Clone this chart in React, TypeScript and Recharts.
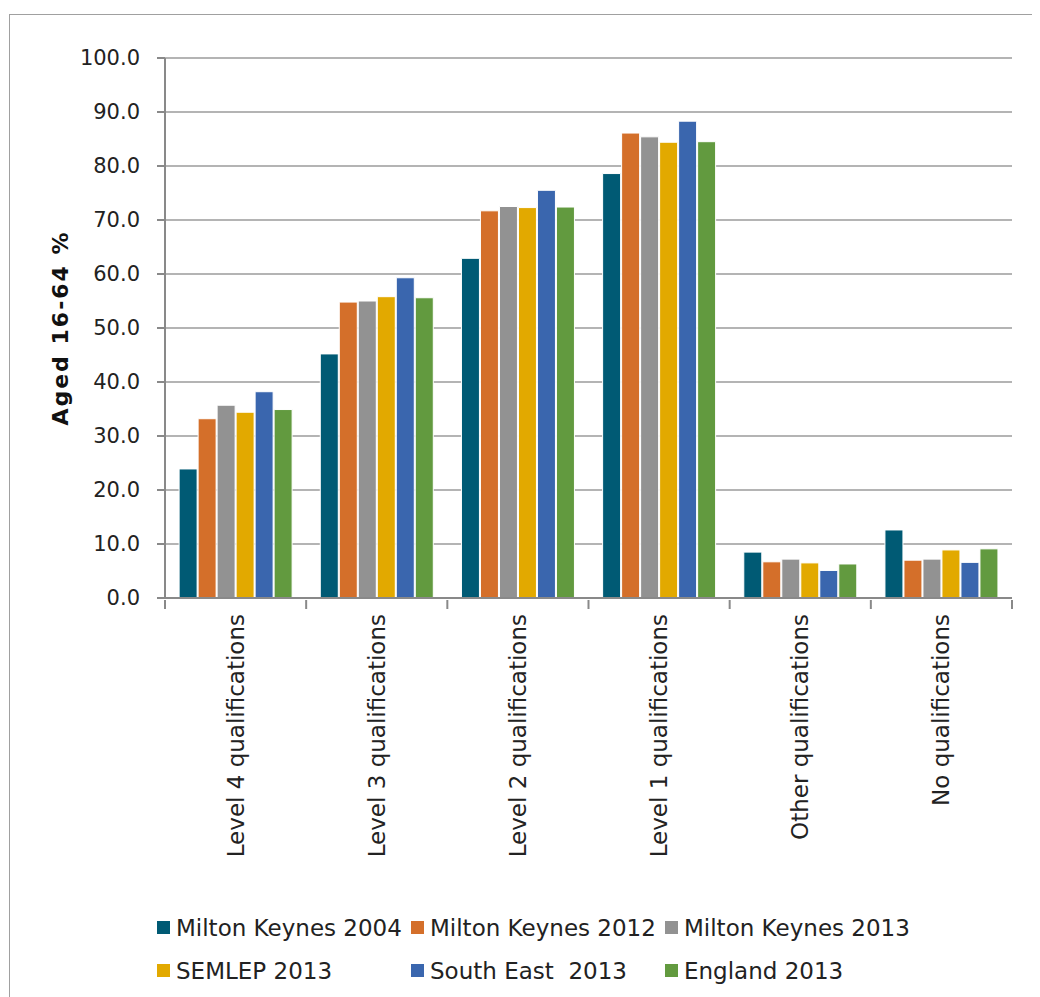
import { Bar, BarChart, CartesianGrid, Legend, XAxis, YAxis } from 'recharts';

const categories = [
  'Level 4 qualifications',
  'Level 3 qualifications',
  'Level 2 qualifications',
  'Level 1 qualifications',
  'Other qualifications',
  'No qualifications',
];

const mk2004 = [23.9, 45.2, 62.9, 78.6, 8.5, 12.6];
const mk2012 = [33.2, 54.8, 71.7, 86.1, 6.7, 7.0];
const mk2013 = [35.7, 55.0, 72.5, 85.4, 7.2, 7.2];
const semlep2013 = [34.4, 55.8, 72.3, 84.4, 6.5, 8.9];
const southEast2013 = [38.2, 59.3, 75.5, 88.3, 5.1, 6.6];
const england2013 = [34.9, 55.6, 72.4, 84.5, 6.3, 9.1];

const yTicks = [0, 10, 20, 30, 40, 50, 60, 70, 80, 90, 100];

const series = [
  { key: 'mk2004', name: 'Milton Keynes 2004', color: '#005A74', values: mk2004 },
  { key: 'mk2012', name: 'Milton Keynes 2012', color: '#D46F2A', values: mk2012 },
  { key: 'mk2013', name: 'Milton Keynes 2013', color: '#929292', values: mk2013 },
  { key: 'semlep', name: 'SEMLEP 2013', color: '#E2A900', values: semlep2013 },
  { key: 'se', name: 'South East  2013', color: '#3A66AE', values: southEast2013 },
  { key: 'eng', name: 'England 2013', color: '#629A3F', values: england2013 },
];

const data = categories.map((c, i) => {
  const row: Record<string, string | number> = { name: c };
  series.forEach((s) => {
    row[s.key] = s.values[i];
  });
  return row;
});

const FONT = '"DejaVu Sans", sans-serif';
const W = 1032;
const H = 989;
const MARGIN = { top: 50, right: 28, left: 0, bottom: 0 };
const Y_W = 157;
const PLOT_W = W - MARGIN.right - Y_W;
const BAND = PLOT_W / categories.length;

const XTick = (props: any) => {
  const { x, y, payload, index } = props;
  const last = index === categories.length - 1;
  return (
    <g>
      <line x1={x - BAND / 2} x2={x - BAND / 2} y1={y} y2={y + 9} stroke="#898989" strokeWidth={2} />
      {last && (
        <line x1={x + BAND / 2} x2={x + BAND / 2} y1={y} y2={y + 9} stroke="#898989" strokeWidth={2} />
      )}
      <text
        x={x}
        y={y + 14}
        transform={`rotate(-90, ${x}, ${y + 14})`}
        textAnchor="end"
        dominantBaseline="central"
        fill="#222"
        fontSize={23}
        fontFamily={FONT}
      >
        {payload.value}
      </text>
    </g>
  );
};

const YLabel = (props: any) => {
  const { viewBox } = props;
  const cy = viewBox.y + viewBox.height / 2;
  const cx = 52;
  return (
    <text
      x={cx}
      y={cy}
      transform={`rotate(-90, ${cx}, ${cy})`}
      textAnchor="middle"
      dominantBaseline="central"
      fontWeight="bold"
      fontSize={22}
      letterSpacing={2}
      fontFamily={FONT}
      fill="#111"
    >
      Aged 16-64 %
    </text>
  );
};

const LegendContent = () => (
  <div
    style={{
      display: 'grid',
      gridTemplateColumns: 'repeat(3, 254px)',
      paddingLeft: 149,
      paddingTop: 6,
      fontFamily: FONT,
      fontSize: 23,
      color: '#222',
    }}
  >
    {series.map((s) => (
      <div key={s.key} style={{ display: 'flex', alignItems: 'center', height: 43, whiteSpace: 'pre' }}>
        <span style={{ width: 13, height: 13, background: s.color, display: 'inline-block', marginRight: 6 }} />
        {s.name}
      </div>
    ))}
  </div>
);

export default function App() {
  return (
    <div style={{ position: 'relative', width: W, height: H, overflow: 'hidden', background: '#fff' }}>
      <div
        style={{
          position: 'absolute',
          left: 1,
          top: 6,
          width: W + 20,
          height: H + 20,
          border: '1px solid #a0a0a0',
        }}
      />
      <BarChart
        width={W}
        height={H}
        data={data}
        margin={MARGIN}
        barCategoryGap="10%"
        barGap={1}
        style={{ position: 'absolute', left: 0, top: 0 }}
      >
        <CartesianGrid vertical={false} stroke="#b4b4b4" strokeWidth={2} />
        <XAxis
          dataKey="name"
          height={302}
          interval={0}
          tickSize={0}
          tickLine={false}
          axisLine={{ stroke: '#898989', strokeWidth: 2 }}
          tick={<XTick />}
        />
        <YAxis
          width={Y_W}
          domain={[0, 100]}
          ticks={yTicks}
          interval={0}
          tickFormatter={(v: number) => v.toFixed(1)}
          tickSize={8}
          tickMargin={17}
          tick={{ fill: '#222', fontSize: 21, fontFamily: FONT }}
          tickLine={{ stroke: '#898989', strokeWidth: 2 }}
          axisLine={{ stroke: '#898989', strokeWidth: 2 }}
          label={<YLabel />}
        />
        <Legend verticalAlign="bottom" height={97} content={<LegendContent />} />
        {series.map((s) => (
          <Bar
            key={s.key}
            dataKey={s.key}
            name={s.name}
            fill={s.color}
            stroke="#fff"
            strokeWidth={1}
            isAnimationActive={false}
          />
        ))}
      </BarChart>
    </div>
  );
}
